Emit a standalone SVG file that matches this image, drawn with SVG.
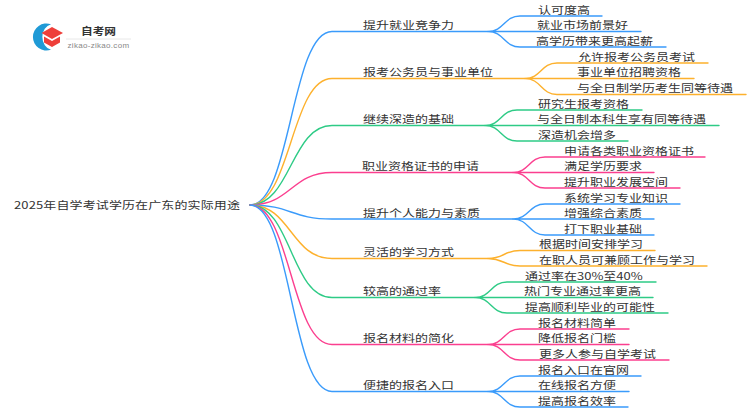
<svg xmlns="http://www.w3.org/2000/svg" width="750" height="410" viewBox="0 0 750 410">
<style>
text{font-family:"Noto Sans CJK SC","Liberation Sans",sans-serif;font-size:13px;fill:#333}
path.c{fill:none;stroke-width:1.4;stroke-linecap:round}
.b{stroke:#3a9bfb}.o{stroke:#fdb12d}.g{stroke:#2ecb86}.p{stroke:#fb3f8f}
</style>
<rect width="750" height="410" fill="#fff"/>
<g id="logo">
<path d="M51 24.300A13.500 13.500 0 1 0 51 49.700A11 13 0 0 1 51 24.300Z" fill="#1f9ad6"/>
<path d="M52 27L63 33L52 39L41.500 33Z" fill="#ee3f3a"/>
<path d="M44 36.500L52 41L60 36.500V42.500L52 47L44 42.500Z" fill="#ee3f3a"/>
<text transform="matrix(1 0 0 .85 81 35)" style="font-size:11.700px;font-weight:700">自考网</text>
<path d="M66 39H131" stroke="#e8e8e8" stroke-width="1" fill="none"/>
<text x="67.500" y="48" style="font-family:'Liberation Sans',sans-serif;font-size:8px;fill:#888;letter-spacing:.3px">zikao-zikao.com</text>
</g>
<g id="connectors">
<path class="c b" d="M250 205C291 205 291 31.500 332 31.500H488"/>
<path class="c o" d="M250 205C291 205 291 78.500 332 78.500H525"/>
<path class="c g" d="M250 205C291 205 291 125.500 332 125.500H485"/>
<path class="c p" d="M250 205C291 205 291 172.500 332 172.500H513"/>
<path class="c b" d="M250 205C291 205 291 219 332 219H513"/>
<path class="c o" d="M250 205C291 205 291 258.500 332 258.500H488"/>
<path class="c g" d="M250 205C291 205 291 297.500 332 297.500H475"/>
<path class="c p" d="M250 205C291 205 291 344.500 332 344.500H488"/>
<path class="c b" d="M250 205C291 205 291 391.500 332 391.500H488"/>
<path class="c b" d="M488 31.500C504 31.500 504 16 520 16H602M488 31.500H641M488 31.500C504 31.500 504 47 520 47H666"/>
<path class="c o" d="M525 78.500C541 78.500 541 63 557 63H708M525 78.500H694M525 78.500C541 78.500 541 94.500 557 94.500H746"/>
<path class="c g" d="M485 125.500C501 125.500 501 110 517 110H642M485 125.500H719M485 125.500C501 125.500 501 141 517 141H628"/>
<path class="c p" d="M513 172.500C529 172.500 529 157 545 157H705M513 172.500H654M513 172.500C529 172.500 529 188 545 188H680"/>
<path class="c b" d="M513 219C529 219 529 204 545 204H680M513 219H654M513 219C529 219 529 235 545 235H654"/>
<path class="c o" d="M488 258.500C504 258.500 504 250.500 520 250.500H655M488 258.500C504 258.500 504 266 520 266H707"/>
<path class="c g" d="M475 297.500C491 297.500 491 282 507 282H656M475 297.500H653M475 297.500C491 297.500 491 313 507 313H668"/>
<path class="c p" d="M488 344.500C504 344.500 504 329 520 329H629M488 344.500H629M488 344.500C504 344.500 504 360 520 360H669"/>
<path class="c b" d="M488 391.500C504 391.500 504 376 520 376H641M488 391.500H629M488 391.500C504 391.500 504 407 520 407H628"/>
</g>
<g id="root"><text transform="matrix(1 0 0 .8 14 208.500)" style="letter-spacing:.12px">2025年自学考试学历在广东的实际用途</text></g>
<g id="n1"><text transform="matrix(1 0 0 .8 363 29)">提升就业竞争力</text></g>
<g id="n1-1"><text transform="matrix(1 0 0 .8 538 13.500)">认可度高</text></g>
<g id="n1-2"><text transform="matrix(1 0 0 .8 537 29)">就业市场前景好</text></g>
<g id="n1-3"><text transform="matrix(1 0 0 .8 536 44.500)">高学历带来更高起薪</text></g>
<g id="n2"><text transform="matrix(1 0 0 .8 363 76)">报考公务员与事业单位</text></g>
<g id="n2-1"><text transform="matrix(1 0 0 .8 578 60.500)">允许报考公务员考试</text></g>
<g id="n2-2"><text transform="matrix(1 0 0 .8 577 76)">事业单位招聘资格</text></g>
<g id="n2-3"><text transform="matrix(1 0 0 .8 577 92)">与全日制学历考生同等待遇</text></g>
<g id="n3"><text transform="matrix(1 0 0 .8 363 123)">继续深造的基础</text></g>
<g id="n3-1"><text transform="matrix(1 0 0 .8 538 107.500)">研究生报考资格</text></g>
<g id="n3-2"><text transform="matrix(1 0 0 .8 537 123)">与全日制本科生享有同等待遇</text></g>
<g id="n3-3"><text transform="matrix(1 0 0 .8 538 138.500)">深造机会增多</text></g>
<g id="n4"><text transform="matrix(1 0 0 .8 362 170)">职业资格证书的申请</text></g>
<g id="n4-1"><text transform="matrix(1 0 0 .8 564 154.500)">申请各类职业资格证书</text></g>
<g id="n4-2"><text transform="matrix(1 0 0 .8 564 170)">满足学历要求</text></g>
<g id="n4-3"><text transform="matrix(1 0 0 .8 564 185.500)">提升职业发展空间</text></g>
<g id="n5"><text transform="matrix(1 0 0 .8 363 216.500)">提升个人能力与素质</text></g>
<g id="n5-1"><text transform="matrix(1 0 0 .8 564 201.500)">系统学习专业知识</text></g>
<g id="n5-2"><text transform="matrix(1 0 0 .8 564 216.500)">增强综合素质</text></g>
<g id="n5-3"><text transform="matrix(1 0 0 .8 564 232.500)">打下职业基础</text></g>
<g id="n6"><text transform="matrix(1 0 0 .8 363 256)">灵活的学习方式</text></g>
<g id="n6-1"><text transform="matrix(1 0 0 .8 539 248)">根据时间安排学习</text></g>
<g id="n6-2"><text transform="matrix(1 0 0 .8 539 263.500)">在职人员可兼顾工作与学习</text></g>
<g id="n7"><text transform="matrix(1 0 0 .8 363 295)">较高的通过率</text></g>
<g id="n7-1"><text transform="matrix(1 0 0 .8 525 279.500)">通过率在30%至40%</text></g>
<g id="n7-2"><text transform="matrix(1 0 0 .8 524 295)">热门专业通过率更高</text></g>
<g id="n7-3"><text transform="matrix(1 0 0 .8 525 310.500)">提高顺利毕业的可能性</text></g>
<g id="n8"><text transform="matrix(1 0 0 .8 363 342)">报名材料的简化</text></g>
<g id="n8-1"><text transform="matrix(1 0 0 .8 538 326.500)">报名材料简单</text></g>
<g id="n8-2"><text transform="matrix(1 0 0 .8 538 342)">降低报名门槛</text></g>
<g id="n8-3"><text transform="matrix(1 0 0 .8 539 357.500)">更多人参与自学考试</text></g>
<g id="n9"><text transform="matrix(1 0 0 .8 363 389)">便捷的报名入口</text></g>
<g id="n9-1"><text transform="matrix(1 0 0 .8 538 373.500)">报名入口在官网</text></g>
<g id="n9-2"><text transform="matrix(1 0 0 .8 538 389)">在线报名方便</text></g>
<g id="n9-3"><text transform="matrix(1 0 0 .8 538 404.500)">提高报名效率</text></g>
</svg>
